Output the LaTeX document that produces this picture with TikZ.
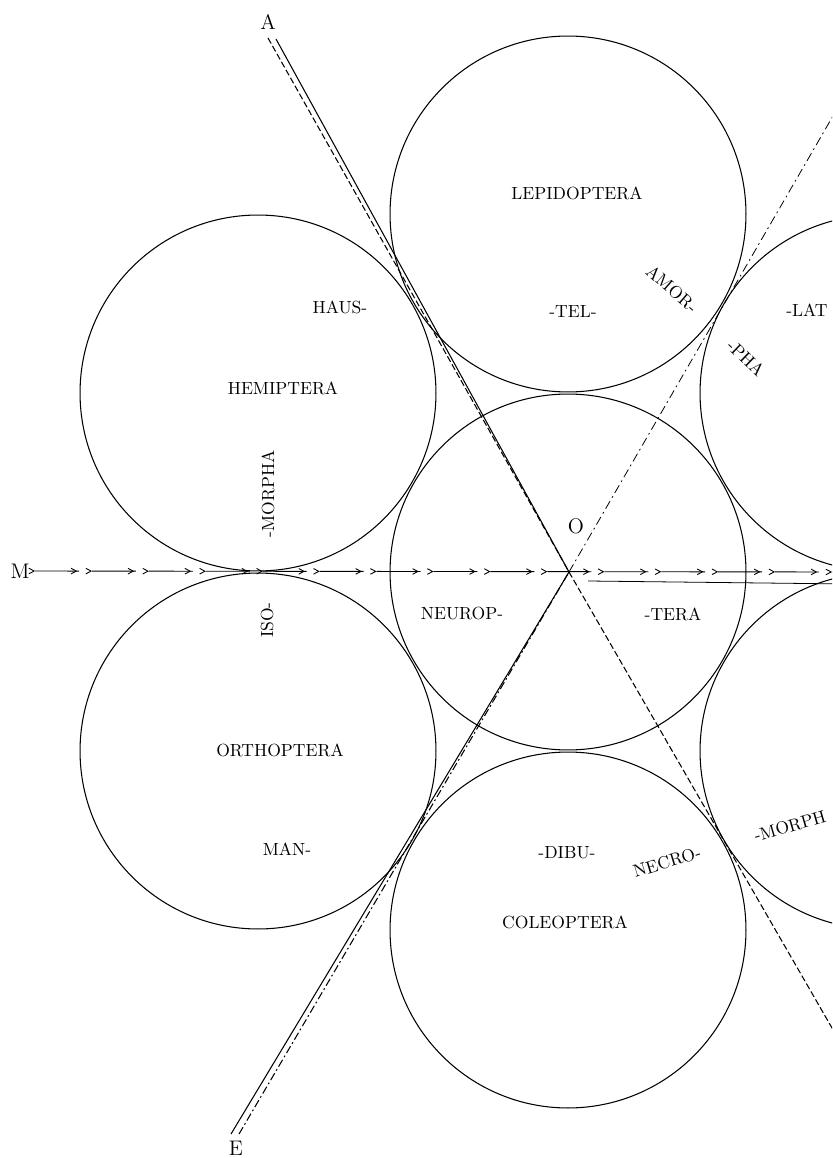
\documentclass[tikz,border=0pt]{standalone}
\usepackage{fontspec}
\usepackage{tikz}
\usetikzlibrary{arrows.meta,decorations.markings}
\tikzset{
  >={Straight Barb[length=3pt,width=3.2pt]},
  ring/.style={line width=0.6pt},
  lbl/.style={font=\fontsize{10}{12}\selectfont\addfontfeatures{LetterSpace=6}, inner sep=1pt},
  letter/.style={font=\fontsize{12}{14}\selectfont, inner sep=3pt},
  axis/.style={line width=0.6pt},
  dashaxis/.style={axis, dash pattern=on 3.6pt off 1.6pt},
  dotaxis/.style={axis, dash pattern=on 4.5pt off 1.7pt on 1pt off 1.7pt},
  thinaxis/.style={line width=0.45pt, dash pattern=on 5pt off 2.2pt on 1pt off 2.2pt},
  arrowaxis/.style={line width=0.5pt, dash pattern=on 25pt off 7.4pt, postaction={decorate},
    decoration={markings,
      mark=between positions 0 and 1 step 32.4pt with {\arrow{>}},
      mark=between positions 24pt and 1 step 32.4pt with {\arrow{>}}}},
}
\begin{document}
\begin{tikzpicture}[x=0.02cm, y=-0.02cm]
  \useasboundingbox (0,0) rectangle (832,1158);
  \clip (0,0) rectangle (832,1158);
  % the seven circles
  \coordinate (cen) at (568,572);
  \coordinate (lep) at (568,214);
  \coordinate (col) at (568,930);
  \coordinate (hem) at (258,393);
  \coordinate (ort) at (258,751);
  \coordinate (lat) at (878,393);
  \coordinate (necr) at (878,751);
  \draw[ring] (cen) circle[radius=3.56cm];
  \draw[ring] (lep) circle[radius=3.56cm];
  \draw[ring] (col) circle[radius=3.56cm];
  \draw[ring] (hem) circle[radius=3.56cm];
  \draw[ring] (ort) circle[radius=3.56cm];
  \draw[ring] (lat) circle[radius=3.56cm];
  \draw[ring] (necr) circle[radius=3.56cm];
  % ends of the three lines
  \coordinate (O) at (569,572);
  \node[letter] (A) at (268,22) {A};
  \node[letter] (E) at (236,1148) {E};
  \node[letter] (M) at (20,571) {M};
  \coordinate (A1) at (268,38);
  \coordinate (A2) at (276,39);
  \coordinate (Aend) at (862,1080);
  \coordinate (E1) at (231,1134);
  \coordinate (E2) at (239,1134);
  \coordinate (Eend) at (848,90);
  \coordinate (Mend) at (850,572);
  \coordinate (T1) at (588,581);
  \coordinate (T2) at (850,584);
  \draw[axis] (A2) -- (O);
  \draw[dashaxis] (A1) -- (O);
  \draw[dashaxis] (O) -- (Aend);
  \draw[axis] (E1) -- (O);
  \draw[dotaxis] (E2) -- (O);
  \draw[thinaxis] (O) -- (Eend);
  \draw[arrowaxis] (M) -- (Mend);
  \draw[line width=0.45pt] (T1) -- (T2);
  % names
  \node[letter] (olbl) at (576,526) {O};
  \node[lbl] (lepT) at (577,193) {LEPIDOPTERA};
  \node[lbl] (tel) at (573,312) {-TEL-};
  \node[lbl, rotate=-41] (amor) at (672,289) {AMOR-};
  \node[lbl, rotate=-44] (pha) at (746,358) {-PHA};
  \node[lbl] (latT) at (807,310) {-LAT};
  \node[lbl] (haus) at (340,307) {HAUS-};
  \node[lbl] (hemT) at (283,388) {HEMIPTERA};
  \node[lbl, rotate=90] (morpha) at (268,494) {-MORPHA};
  \node[lbl, rotate=90] (iso) at (267,620) {ISO-};
  \node[lbl] (neur) at (462,613) {NEUROP-};
  \node[lbl] (tera) at (673,614) {-TERA};
  \node[lbl] (ortT) at (280,750) {ORTHOPTERA};
  \node[lbl] (man) at (287,849) {MAN-};
  \node[lbl] (dibu) at (567,853) {-DIBU-};
  \node[lbl, rotate=17] (necro) at (667,862) {NECRO-};
  \node[lbl] (colT) at (565,922) {COLEOPTERA};
  \node[lbl, rotate=16] (morph) at (790,826) {-MORPH};
\end{tikzpicture}
\end{document}
